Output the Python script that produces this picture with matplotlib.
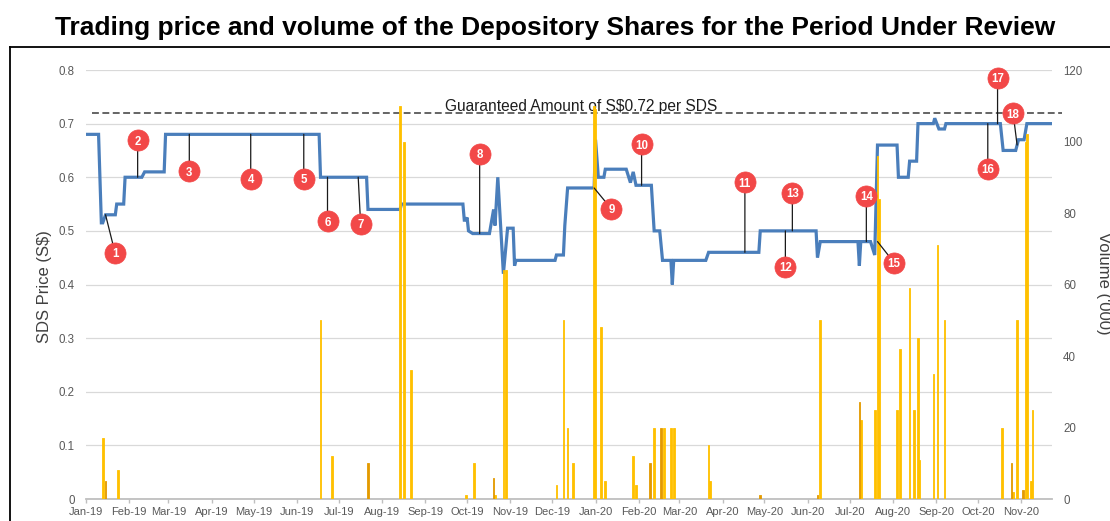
import matplotlib
matplotlib.use("Agg")
import matplotlib.pyplot as plt
import matplotlib.dates as mdates
from matplotlib.lines import Line2D
from matplotlib.ticker import FuncFormatter, MultipleLocator
from matplotlib.transforms import offset_copy
import numpy as np
import pandas as pd

# ---------------- data ----------------
TITLE = "Trading price and volume of the Depository Shares for the Period Under Review"
GUARANTEED = 0.72
GUARANTEED_LABEL = "Guaranteed Amount of S$0.72 per SDS"

price_dates = [
    "2019-01-01", "2019-01-10", "2019-01-12", "2019-01-13", "2019-01-15", "2019-01-22",
    "2019-01-23", "2019-01-28", "2019-01-29", "2019-02-10", "2019-02-12", "2019-02-26",
    "2019-02-27", "2019-06-17", "2019-06-18", "2019-07-21", "2019-07-22", "2019-08-14",
    "2019-08-15", "2019-09-28", "2019-09-29", "2019-09-30", "2019-10-01", "2019-10-02",
    "2019-10-05", "2019-10-17", "2019-10-20", "2019-10-21", "2019-10-23", "2019-10-27",
    "2019-10-30", "2019-11-03", "2019-11-04", "2019-11-05", "2019-12-03", "2019-12-04",
    "2019-12-09", "2019-12-10", "2019-12-12", "2019-12-31", "2020-01-01", "2020-01-03",
    "2020-01-07", "2020-01-08", "2020-01-23", "2020-01-26", "2020-01-28", "2020-01-30",
    "2020-02-10", "2020-02-12", "2020-02-16", "2020-02-18", "2020-02-24", "2020-02-25",
    "2020-02-26", "2020-03-20", "2020-03-22", "2020-04-27", "2020-04-28", "2020-06-07",
    "2020-06-08", "2020-06-10", "2020-07-07", "2020-07-08", "2020-07-09", "2020-07-16",
    "2020-07-19", "2020-07-21", "2020-08-04", "2020-08-05", "2020-08-12", "2020-08-13",
    "2020-08-18", "2020-08-19", "2020-08-30", "2020-08-31", "2020-09-03", "2020-09-07",
    "2020-09-08", "2020-10-17", "2020-10-19", "2020-10-28", "2020-10-30", "2020-11-03",
    "2020-11-05", "2020-11-23",
]
price_values = [
    0.68, 0.68, 0.515, 0.515, 0.53, 0.53,
    0.55, 0.55, 0.60, 0.60, 0.61, 0.61,
    0.68, 0.68, 0.60, 0.60, 0.54, 0.54,
    0.55, 0.55, 0.52, 0.52, 0.525, 0.50,
    0.495, 0.495, 0.54, 0.51, 0.60, 0.42,
    0.505, 0.505, 0.435, 0.445, 0.445, 0.455,
    0.455, 0.51, 0.58, 0.58, 0.67, 0.60,
    0.60, 0.615, 0.615, 0.59, 0.61, 0.585,
    0.585, 0.50, 0.50, 0.445, 0.445, 0.40,
    0.445, 0.445, 0.46, 0.46, 0.50, 0.50,
    0.45, 0.48, 0.48, 0.435, 0.48, 0.48,
    0.455, 0.66, 0.66, 0.60, 0.60, 0.63,
    0.63, 0.70, 0.70, 0.71, 0.69, 0.69,
    0.70, 0.70, 0.65, 0.65, 0.67, 0.67,
    0.70, 0.70,
]

# traded volume ('000)
volume_dates = [
    "2019-01-13", "2019-01-24", "2019-06-18", "2019-06-26", "2019-08-14", "2019-08-17",
    "2019-08-22", "2019-09-30", "2019-10-06", "2019-10-21", "2019-10-27", "2019-10-29",
    "2019-12-04", "2019-12-09", "2019-12-12", "2019-12-16", "2019-12-31", "2020-01-01",
    "2020-01-05", "2020-01-08", "2020-01-28", "2020-01-30", "2020-02-12", "2020-02-19",
    "2020-02-24", "2020-02-26", "2020-03-22", "2020-03-23", "2020-06-10", "2020-07-09",
    "2020-07-19", "2020-07-21", "2020-07-22", "2020-08-04", "2020-08-06", "2020-08-13",
    "2020-08-16", "2020-08-19", "2020-08-20", "2020-08-30", "2020-09-02", "2020-09-07",
    "2020-10-18", "2020-10-26", "2020-10-29", "2020-11-04", "2020-11-05", "2020-11-08",
    "2020-11-09",
]
volume_values = [
    17, 8, 50, 12, 110, 100,
    36, 1, 10, 1, 64, 64,
    4, 50, 20, 10, 110, 109,
    48, 5, 12, 4, 20, 20,
    20, 20, 15, 5, 50, 22,
    25, 96, 84, 25, 42, 59,
    25, 45, 11, 35, 71, 50,
    20, 2, 50, 100, 102, 5,
    25,
]
# days whose columns show in the darker orange shade
volume_dark_dates = ["2019-01-15", "2019-07-22", "2019-10-20", "2020-02-09", "2020-02-17",
                     "2020-04-28", "2020-06-08", "2020-07-08", "2020-10-25", "2020-11-02"]
volume_dark_values = [5, 10, 6, 10, 20, 1, 1, 27, 10, 2.4]

# numbered event markers: label, date on the price line, price there
event_labels = [str(i) for i in range(1, 19)]
event_dates = ["2019-01-15", "2019-02-07", "2019-03-16", "2019-04-29", "2019-06-06",
               "2019-06-23", "2019-07-15", "2019-10-10", "2019-12-31", "2020-02-03",
               "2020-04-17", "2020-05-16", "2020-05-21", "2020-07-13", "2020-07-21",
               "2020-10-08", "2020-10-15", "2020-10-29"]
event_prices = [0.53, 0.60, 0.68, 0.68, 0.68, 0.60, 0.60, 0.495, 0.58, 0.585,
                0.46, 0.50, 0.50, 0.48, 0.48, 0.70, 0.70, 0.66]

# ---------------- layout ----------------
# callout offsets in pixels (dx, dy; dy positive = up)
event_offsets = [(9.5, -38), (0, 37), (0, -37), (0, -44.5), (0, -44.5), (0, -44),
                 (2.4, -46.6), (0, 80), (17.3, -21), (0, 41), (0, 70), (0, -36),
                 (0, 38), (0, 46), (16.6, -21), (0, -45), (0, 46), (-4, 32)]

W, H = 1110, 521
plt.rcParams["font.family"] = ["Liberation Sans", "DejaVu Sans"]

fig = plt.figure(figsize=(W / 100, H / 100), dpi=100)


def fx(px):
    return px / W


def fy(py):
    return 1 - py / H


ax1 = fig.add_axes([fx(86), fy(499), (1052 - 86) / W, (499 - 70) / H])
ax2 = ax1.twinx()

pdates = pd.to_datetime(price_dates)
vdates = pd.to_datetime(volume_dates)
vddates = pd.to_datetime(volume_dark_dates)

# guaranteed level
g_start = mdates.date2num(pd.Timestamp("2019-01-05"))
g_end = mdates.date2num(pd.Timestamp("2020-11-30"))
ax1.plot([g_start, g_end], [GUARANTEED, GUARANTEED], ls=(0, (4.5, 2.3)),
         color="#3a3a3a", lw=1.1, clip_on=False, zorder=2)
ax1.text(mdates.date2num(pd.Timestamp("2019-12-22")), GUARANTEED + 0.0035, GUARANTEED_LABEL,
         ha="center", va="baseline", fontsize=11.2, color="#1e1e1e", parse_math=False, zorder=2)

# price line
ax1.plot(mdates.date2num(pdates), price_values, color="#4A7EBB", lw=2.3,
         solid_joinstyle="miter", zorder=3)

# volume bars
ax2.bar(mdates.date2num(vdates), volume_values, width=1.2, color="#FFC000",
        edgecolor="#FFC000", linewidth=0.6, zorder=2)
ax2.bar(mdates.date2num(vddates), volume_dark_values, width=1.2, color="#E39A00",
        edgecolor="#E39A00", linewidth=0.6, zorder=2)

# axes formatting
x0 = mdates.date2num(pd.Timestamp("2019-01-01"))
x1 = mdates.date2num(pd.Timestamp("2020-11-23"))
ax1.set_xlim(x0, x1)
ax1.set_ylim(0, 0.8)
ax2.set_ylim(0, 120)
ax1.yaxis.set_major_locator(MultipleLocator(0.1))
ax1.yaxis.set_major_formatter(FuncFormatter(lambda v, p: "0" if abs(v) < 1e-9 else f"{v:.1f}"))
ax2.yaxis.set_major_locator(MultipleLocator(20))
ax1.xaxis.set_major_locator(mdates.MonthLocator())
ax1.xaxis.set_major_formatter(mdates.DateFormatter("%b-%y"))

ax1.yaxis.grid(True, color="#D9D9D9", lw=0.9)
ax1.set_axisbelow(True)
for ax in (ax1, ax2):
    for s in ("left", "right", "top"):
        ax.spines[s].set_visible(False)
ax2.spines["bottom"].set_visible(False)
ax1.spines["bottom"].set_color("#BFBFBF")
ax1.spines["bottom"].set_linewidth(1.3)
ax1.tick_params(axis="y", length=0, pad=8, labelsize=8.3, labelcolor="#595959")
ax2.tick_params(axis="y", length=0, pad=8, labelsize=8.3, labelcolor="#595959")
ax1.tick_params(axis="x", length=2.6, width=1, color="#BFBFBF", labelsize=8,
                labelcolor="#595959", pad=3)

# callouts
for lab, d, p, (dx, dy) in zip(event_labels, event_dates, event_prices, event_offsets):
    xn = mdates.date2num(pd.Timestamp(d))
    ax2.annotate("", xy=(xn, p), xycoords=ax1.transData, xytext=(dx, dy),
                 textcoords="offset pixels", annotation_clip=False,
                 arrowprops=dict(arrowstyle="-", color="#1a1a1a", lw=0.9,
                                 shrinkA=0, shrinkB=0), zorder=4)
    tr = offset_copy(ax1.transData, fig=fig, x=dx, y=dy, units="dots")
    ax2.plot([xn], [p], marker="o", ms=15.2, mfc="#F24848", mec="#F24848", mew=0.5,
             transform=tr, zorder=5, clip_on=False)
    ax2.text(xn, p, lab, transform=tr, ha="center", va="center_baseline", color="white",
             fontsize=8.3, fontweight="bold", zorder=6)

ax1.set_xlim(x0, x1)
ax2.set_ylim(0, 120)

# titles / axis titles
fig.text(0.5, fy(28), TITLE, ha="center", va="center", fontsize=19, fontweight="bold",
         color="black")
fig.text(fx(44), fy(287), "SDS Price (S$)", rotation=90, ha="center", va="center",
         fontsize=12, color="#404040", parse_math=False)
fig.text(fx(1103), fy(283), "Volume ('000)", rotation=270, ha="center", va="center",
         fontsize=12, color="#404040")

# outer frame
fig.add_artist(Line2D([fx(10), fx(10)], [fy(47), fy(530)], transform=fig.transFigure,
                      color="black", lw=1.3))
fig.add_artist(Line2D([fx(10), fx(1120)], [fy(47), fy(47)], transform=fig.transFigure,
                      color="black", lw=1.3))

fig.savefig("out.png", dpi=100)
